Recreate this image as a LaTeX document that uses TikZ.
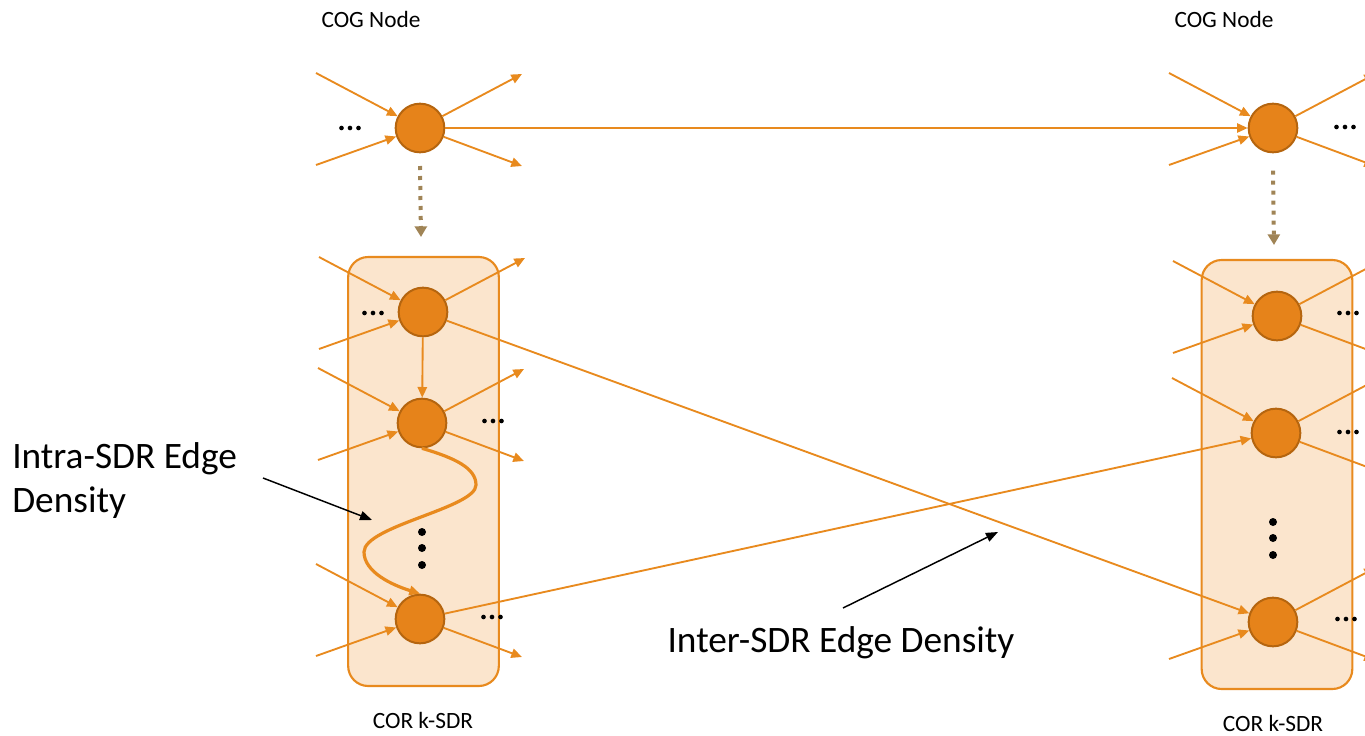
\documentclass[tikz,border=0pt]{standalone}
\usepackage{fontspec}
\setmainfont{Carlito}
\usetikzlibrary{arrows.meta,positioning}
\definecolor{edgeor}{HTML}{E88A1E}
\definecolor{unitfill}{HTML}{E6831A}
\definecolor{unitline}{HTML}{B5650F}
\definecolor{boxfill}{HTML}{FBE5CD}
\definecolor{mapcol}{HTML}{A08456}

\begin{document}
\begin{tikzpicture}[x=0.75pt,y=-0.75pt]
            \tikzstyle{unit}=[circle, draw=unitline, fill=unitfill, line width=1.5pt, minimum size=36.5pt, inner sep=0pt]
            \tikzstyle{edge}=[edgeor, line width=1.4pt, -{Triangle[length=8pt,width=7pt]}]
            \tikzstyle{sdrbox}=[draw=edgeor, fill=boxfill, line width=1.6pt, rounded corners=15pt, minimum width=113pt]
            \tikzstyle{mapping}=[mapcol, line width=3pt, dash pattern=on 3pt off 4.5pt, -{Triangle[length=8pt,width=9pt]}]
            \tikzstyle{pointer}=[black, line width=1.1pt, -{Triangle[length=9pt,width=7pt]}]
            \tikzstyle{small}=[font=\fontsize{17.5}{21}\selectfont]
            \tikzstyle{big}=[font=\fontsize{28}{32.5}\selectfont]

            \clip (0,0) rectangle (1365,736);

            % the two k-SDR boxes
            \node[sdrbox, minimum height=321.75pt] (sdrA) at (423.5,471.5) {};
            \node[sdrbox, minimum height=321.75pt] (sdrB) at (1277,474.5) {};

            % COG nodes and SDR units
            \node[unit] (cogA) at (420,128) {};
            \node[unit] (cogB) at (1273,128) {};
            \node[unit] (a1) at (423,312) {};
            \node[unit] (a2) at (422,423) {};
            \node[unit] (a3) at (420,619) {};
            \node[unit] (b1) at (1277,316) {};
            \node[unit] (b2) at (1276,433) {};
            \node[unit] (b3) at (1273,622) {};

            % stub edges
            \foreach \n in {cogA,cogB,a1,a2,a3,b1,b2}
                \draw[edge] (\n) ++(-104,-55) coordinate (\n-iu) -- (\n);
            \foreach \n in {cogA,cogB,a1,a2,a3,b1,b3}
                \draw[edge] (\n) ++(-104,37) coordinate (\n-il) -- (\n);
            \foreach \n in {cogA,cogB,a1,a2,b1,b2,b3}
                \draw[edge] (\n) -- ++(102,-54);
            \foreach \n in {cogA,cogB,a2,a3,b1,b2,b3}
                \draw[edge] (\n) -- ++(102,38);

            % edges between units
            \draw[edge] (cogA) -- (cogB);
            \draw[edge] (a1) -- (a2);
            \draw[edge] (a1) -- (b3);
            \draw[edge] (a3) -- (b2);
            \draw[edgeor, line width=2.4pt, -{Triangle[length=8pt,width=7pt]}]
                (a2.south) .. controls (455,458) and (476,468) .. (476,485)
                .. controls (476,508) and (364,526) .. (364,552)
                .. controls (364,572) and (392,585) .. (a3.north);

            % COG to SDR mapping
            \coordinate (mA) at (421,237);
            \coordinate (mB) at (1274,245);
            \draw[mapping] ([yshift=-9.5pt]cogA.south) -- (mA);
            \draw[mapping] ([yshift=-13pt]cogB.south) -- (mB);

            % ellipses
            \foreach \x/\y in {350/128,1345/127,373/313,493/421,492/617,1348/313,1348/432,1346/619}
                \foreach \d in {-8.5,0,8.5}
                    \fill (\x+\d,\y) circle (1.75pt);
            \foreach \y in {532,548,565}
                \fill (422,\y) circle (3pt);
            \foreach \y in {522,538,555}
                \fill (1273,\y) circle (3pt);

            % labels
            \node[small, anchor=base] (cogAlabel) at (371,27) {COG Node};
            \node[small, anchor=base] (cogBlabel) at (1224,27) {COG Node};
            \node[small, anchor=base] (sdrAlabel) at (423,728) {COR k-SDR};
            \node[small, anchor=base] (sdrBlabel) at (1273,731) {COR k-SDR};
            \node[big, anchor=base west, align=left, inner sep=0pt] (intra) at (12,512) {Intra-SDR Edge\\Density};
            \node[big, anchor=base, inner sep=0pt] (inter) at (841,652) {Inter-SDR Edge Density};

            \coordinate (intraTail) at (263,478);
            \coordinate (intraHead) at (372,520);
            \coordinate (interTail) at (843,608);
            \coordinate (interHead) at (998,532);
            \draw[pointer] (intraTail) -- (intraHead);
            \draw[pointer] (interTail) -- (interHead);
        \end{tikzpicture}
\end{document}
